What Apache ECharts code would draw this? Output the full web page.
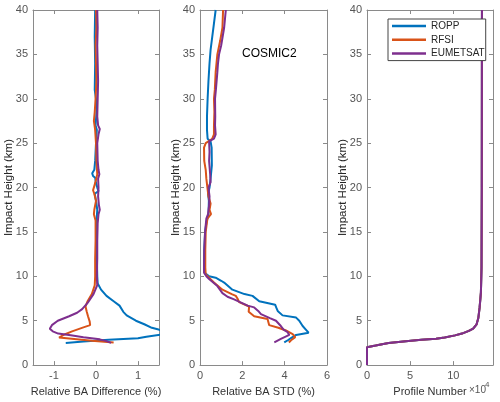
<!DOCTYPE html>
<html>
<head>
<meta charset="utf-8">
<script src="https://cdn.jsdelivr.net/npm/echarts@6/dist/echarts.min.js"></script>
<style>
html, body { margin: 0; padding: 0; background: #fff; }
#chart { width: 500px; height: 402px; }
</style>
</head>
<body>
<div id="chart"></div>
<script>
// series names
var names = ["ROPP", "RFSI", "EUMETSAT"];
var colors = ["#0072BD", "#D95319", "#7E2F8E"];

// tick labels of the x axes
var diffTicks = [-1, 0, 1];
var stdTicks = [0, 2, 4, 6];
var countTicks = [0, 5, 10];

// relative BA difference (%), [value, impact height km]
var diffRopp = [[-0.02,40],[-0.03,37],[-0.02,34],[-0.03,31],[0.0,30],[0.02,29],[-0.01,27],[0.02,26.5],[0.0,25],[-0.02,23],[-0.04,22],[-0.09,21.6],[-0.07,21.3],[-0.02,21.1],[0.0,20.5],[0.03,20],[0.06,19.6],[-0.03,19.3],[0.0,18.5],[0.03,17.5],[0.01,16],[0.02,14],[0.02,12],[0.03,10],[0.04,9.2],[0.12,8.5],[0.25,7.8],[0.42,7.2],[0.56,6.7],[0.65,6.0],[0.73,5.6],[0.95,5.0],[1.15,4.6],[1.33,4.2],[1.49,4.0],[1.7,3.7],[1.55,3.45],[1.2,3.2],[1.0,3.02],[0.3,2.85],[-0.3,2.65],[-0.72,2.5]];
var diffRfsi = [[0.0,40],[0.01,38],[-0.01,36],[0.0,34],[0.01,32],[-0.01,30],[-0.03,28.5],[-0.05,27.5],[-0.02,26.5],[0.0,25],[0.01,23],[0.03,21.5],[-0.02,20.5],[-0.07,19.7],[-0.04,19.3],[0.0,18.5],[-0.04,17.5],[-0.05,17],[-0.01,16.3],[-0.01,14],[-0.02,12],[-0.02,10],[-0.03,9],[-0.1,8],[-0.2,7.2],[-0.25,6.6],[-0.22,6.0],[-0.19,5.5],[-0.15,4.9],[-0.14,4.5],[-0.3,4.25],[-0.57,3.8],[-0.75,3.45],[-0.88,3.1],[-0.85,3.0],[-0.1,2.75],[0.42,2.55]];
var diffEum = [[0.03,40],[0.04,38],[0.03,36],[0.04,34],[0.05,32],[0.04,30],[0.03,28],[0.05,27],[0.09,26.6],[0.06,26],[0.03,25],[0.04,23],[0.06,22],[0.08,21.5],[0.05,21],[0.06,20],[0.05,19],[0.07,18],[0.09,17.5],[0.06,17],[0.04,16],[0.03,14],[0.03,12],[0.02,10],[0.03,9],[-0.06,8],[-0.2,7],[-0.33,6.3],[-0.45,5.9],[-0.64,5.5],[-0.91,5.0],[-1.05,4.5],[-1.1,4.1],[-1.03,3.8],[-0.9,3.55],[-0.6,3.35],[-0.3,3.15],[0.09,2.9],[0.25,2.7],[0.36,2.5]];

// relative BA STD (%)
var stdRopp = [[0.74,40],[0.66,38.5],[0.58,37],[0.5,35.5],[0.45,34],[0.4,32],[0.36,30],[0.33,28],[0.33,26.5],[0.36,25.5],[0.5,25.2],[0.55,24.5],[0.56,22.5],[0.5,21],[0.45,20],[0.38,19.3],[0.42,18.5],[0.4,17],[0.3,16],[0.24,15],[0.2,13],[0.19,11],[0.22,10.4],[0.43,10.0],[0.74,9.85],[1.0,9.5],[1.14,9.3],[1.53,8.5],[2.1,8.0],[2.48,7.8],[2.8,7.2],[3.55,6.8],[3.6,6.5],[3.67,6.1],[3.9,5.6],[4.54,5.35],[4.69,5.0],[4.85,4.4],[5.0,4.0],[5.13,3.65],[4.54,3.4],[4.3,3.05],[4.15,2.8],[3.98,2.55]];
var stdRfsi = [[1.09,40],[1.06,38],[0.95,36.5],[0.82,35],[0.78,34],[0.74,33],[0.7,31],[0.66,30],[0.68,28.5],[0.66,27],[0.66,26],[0.58,25.5],[0.27,25.0],[0.19,24.5],[0.2,23],[0.27,22],[0.3,21],[0.35,20],[0.4,19],[0.5,18.2],[0.45,17.5],[0.52,17],[0.35,16.5],[0.27,15],[0.25,13],[0.25,11],[0.27,10.2],[0.45,9.8],[0.66,9.3],[1.06,8.5],[1.5,8.0],[1.69,7.8],[1.77,7.5],[1.85,7.1],[2.32,6.6],[2.3,6.0],[2.56,5.5],[3.19,5.2],[3.27,4.5],[3.7,4.2],[4.06,3.9],[4.38,3.5],[4.5,3.15],[4.3,2.8],[4.2,2.55]];
var stdEum = [[1.22,40],[1.18,39],[1.14,38],[1.0,36],[0.9,35],[0.85,34],[0.82,33],[0.75,31],[0.71,30],[0.72,28],[0.71,27],[0.74,26],[0.66,25.5],[0.43,25.2],[0.45,24],[0.43,23],[0.48,21.5],[0.5,20.6],[0.4,20],[0.45,19],[0.43,18],[0.38,17],[0.3,16.5],[0.24,15],[0.2,13],[0.19,11],[0.19,10.4],[0.3,10.0],[0.43,9.7],[0.82,8.9],[1.06,8.1],[1.3,7.7],[1.61,7.4],[2.25,6.7],[2.56,6.5],[2.75,6.1],[2.88,5.75],[3.3,5.3],[3.59,5.0],[3.82,4.4],[3.95,4.0],[4.14,3.7],[4.22,3.4],[3.82,2.95],[3.51,2.55]];

// profile number (x 10^4), same for all three
var profileCount = [[0,0],[0,2.02],[1.0,2.2],[2.5,2.5],[4.5,2.7],[6.3,2.85],[8,2.98],[9.0,3.1],[10.2,3.35],[11.0,3.55],[11.8,3.85],[12.3,4.1],[12.7,4.6],[12.9,5.3],[13.05,6.5],[13.2,8.2],[13.27,11],[13.3,20],[13.32,40]];

var font = "Liberation Sans";
var axisColor = "#8a8a8a";
var labelColor = "#555";

var chart = echarts.init(document.getElementById("chart"));

function xMain(i, min, max, ticks, name) {
  return {
    type: "value", gridIndex: i, min: min, max: max, position: "bottom",
    name: name, nameLocation: "middle", nameGap: 15,
    nameTextStyle: { color: "#333", fontSize: 11, fontFamily: font },
    axisLine: { show: true, onZero: false, lineStyle: { color: axisColor, width: 1 } },
    axisTick: { show: true, inside: true, length: 4, customValues: ticks, lineStyle: { color: axisColor } },
    axisLabel: { show: true, customValues: ticks, margin: 5, color: labelColor, fontSize: 11, fontFamily: font },
    splitLine: { show: false }
  };
}
function xTop(i, min, max, ticks) {
  return {
    type: "value", gridIndex: i, min: min, max: max, position: "top",
    axisLine: { show: true, onZero: false, lineStyle: { color: axisColor, width: 1 } },
    axisTick: { show: true, inside: true, length: 4, customValues: ticks, lineStyle: { color: axisColor } },
    axisLabel: { show: false },
    splitLine: { show: false }
  };
}
function yAxis(i, pos) {
  var main = pos === "left";
  return {
    type: "value", gridIndex: i, min: 0, max: 40, interval: 5, position: pos,
    name: main ? "Impact Height (km)" : "", nameLocation: "middle", nameGap: 18,
    nameMoveOverlap: false,
    nameTextStyle: { color: "#262626", fontSize: 11.5, fontFamily: font },
    axisLine: { show: true, onZero: false, lineStyle: { color: axisColor, width: 1 } },
    axisTick: { show: true, inside: true, length: 4, lineStyle: { color: axisColor } },
    axisLabel: { show: main, margin: 5, color: labelColor, fontSize: 11, fontFamily: font },
    splitLine: { show: false }
  };
}

function line(name, k, axis, data) {
  return {
    name: name, type: "line", xAxisIndex: axis, yAxisIndex: axis,
    data: data, showSymbol: false, symbol: "none", clip: true,
    lineStyle: { color: colors[k], width: 2 }, itemStyle: { color: colors[k] }
  };
}

var option = {
  animation: false,
  backgroundColor: "#fff",
  grid: [
    { left: 33, top: 10, width: 126, height: 356 },
    { left: 200, top: 10, width: 127, height: 356 },
    { left: 367, top: 10, width: 126, height: 356 }
  ],
  xAxis: [
    xMain(0, -1.5, 1.5, diffTicks, "Relative BA Difference (%)"),
    xMain(1, 0, 6, stdTicks, "Relative BA STD (%)"),
    xMain(2, 0, 14.6, countTicks, "Profile Number"),
    xTop(0, -1.5, 1.5, diffTicks),
    xTop(1, 0, 6, stdTicks),
    xTop(2, 0, 14.6, countTicks)
  ],
  yAxis: [
    yAxis(0, "left"), yAxis(1, "left"), yAxis(2, "left"),
    yAxis(0, "right"), yAxis(1, "right"), yAxis(2, "right")
  ],
  legend: {
    data: names, orient: "vertical", left: 388, top: 19,
    padding: [1, 1, 1, 4], itemGap: 1.8, itemWidth: 34, itemHeight: 2.5,
    icon: "rect", borderColor: "#444", borderWidth: 1, borderRadius: 0,
    backgroundColor: "#fff",
    textStyle: { color: "#262626", fontSize: 10, fontFamily: font, lineHeight: 12 }
  },
  graphic: [
    { type: "text", left: 242, top: 48, style: { text: "COSMIC2", fill: "#000", font: "12px 'Liberation Sans'" } },
    { type: "text", left: 469, top: 385, style: { text: "\u00d710", fill: "#555", font: "10px 'Liberation Sans'" } },
    { type: "text", left: 485, top: 381, style: { text: "4", fill: "#555", font: "8px 'Liberation Sans'" } }
  ],
  series: [
    line(names[0], 0, 0, diffRopp),
    line(names[1], 1, 0, diffRfsi),
    line(names[2], 2, 0, diffEum),
    line(names[0], 0, 1, stdRopp),
    line(names[1], 1, 1, stdRfsi),
    line(names[2], 2, 1, stdEum),
    line(names[0], 0, 2, profileCount),
    line(names[1], 1, 2, profileCount),
    line(names[2], 2, 2, profileCount)
  ]
};
chart.setOption(option);
</script>
</body>
</html>
